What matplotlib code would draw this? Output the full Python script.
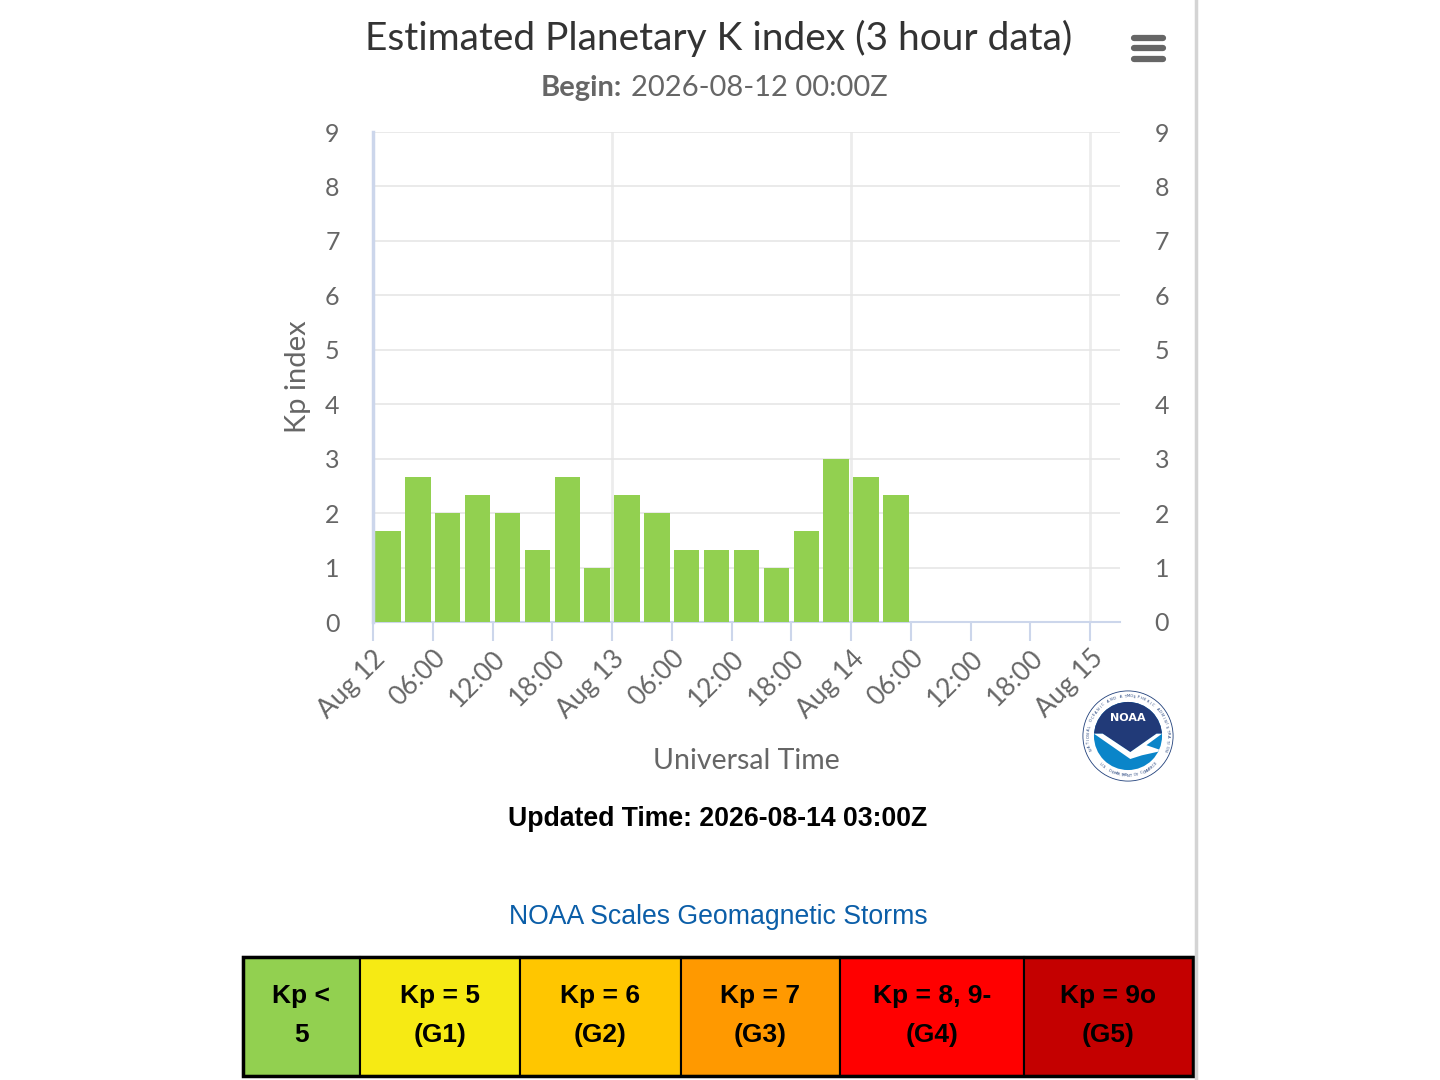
import matplotlib
matplotlib.use("Agg")
import matplotlib.pyplot as plt
import matplotlib.dates as mdates
from matplotlib.ticker import FuncFormatter, MultipleLocator
from matplotlib.patches import Rectangle, Circle, Polygon
from matplotlib.lines import Line2D
import numpy as np
import pandas as pd

# ---------------- data ----------------
title = "Estimated Planetary K index (3 hour data)"
begin_label = "Begin:"
begin_value = "2026-08-12 00:00Z"
updated_text = "Updated Time: 2026-08-14 03:00Z"
scales_text = "NOAA Scales Geomagnetic Storms"

times = ["2026-08-12 00:00", "2026-08-12 03:00", "2026-08-12 06:00", "2026-08-12 09:00",
         "2026-08-12 12:00", "2026-08-12 15:00", "2026-08-12 18:00", "2026-08-12 21:00",
         "2026-08-13 00:00", "2026-08-13 03:00", "2026-08-13 06:00", "2026-08-13 09:00",
         "2026-08-13 12:00", "2026-08-13 15:00", "2026-08-13 18:00", "2026-08-13 21:00",
         "2026-08-14 00:00", "2026-08-14 03:00"]
kp = [1.67, 2.67, 2.00, 2.33, 2.00, 1.33, 2.67, 1.00,
      2.33, 2.00, 1.33, 1.33, 1.33, 1.00, 1.67, 3.00,
      2.67, 2.33]
x_start = "2026-08-12 00:00"
x_end = "2026-08-15 03:00"

scale_labels = ["Kp <\n5", "Kp = 5\n(G1)", "Kp = 6\n(G2)", "Kp = 7\n(G3)",
                "Kp = 8, 9-\n(G4)", "Kp = 9o\n(G5)"]
scale_colors = ["#92d050", "#f6ea14", "#ffc600", "#ff9900", "#ff0000", "#c40000"]
scale_edges_px = [243, 360, 520, 681, 840, 1024, 1193]

# ---------------- figure ----------------
W, H = 1440, 1080
fig = plt.figure(figsize=(W / 100, H / 100), dpi=100)
fig.patch.set_facecolor("white")

def fx(px):
    return px / W

def fy(py):
    return 1 - py / H

FONT = ["Lato", "DejaVu Sans"]
GREY = "#666666"
AXIS_BLUE = "#ccd6eb"

# main axes
ax = fig.add_axes([fx(373), fy(622), fx(1120) - fx(373), fy(132) - fy(622)])
t = pd.to_datetime(times)
centers = mdates.date2num(t + pd.Timedelta(hours=1.5))
ax.bar(centers, kp, width=2.55 / 24, color="#92d050", edgecolor="none", zorder=3)

ax.set_xlim(mdates.date2num(pd.Timestamp(x_start)), mdates.date2num(pd.Timestamp(x_end)))
ax.set_ylim(0, 9)
ax.yaxis.set_major_locator(MultipleLocator(1))
ax.xaxis.set_major_locator(mdates.HourLocator(byhour=[0, 6, 12, 18]))

def xfmt(v, pos):
    d = mdates.num2date(v)
    if d.hour == 0:
        return d.strftime("%b ") + str(d.day)
    return d.strftime("%H:%M")

ax.xaxis.set_major_formatter(FuncFormatter(xfmt))

for s in ["top", "right"]:
    ax.spines[s].set_visible(False)
ax.spines["left"].set_color(AXIS_BLUE)
ax.spines["left"].set_linewidth(2.5)
ax.spines["bottom"].set_color(AXIS_BLUE)
ax.spines["bottom"].set_linewidth(1.5)
ax.spines["left"].set_zorder(4)

ax.grid(axis="y", color="#e6e6e6", lw=1.2, zorder=0)
for day in ["2026-08-13", "2026-08-14", "2026-08-15"]:
    ax.axvline(mdates.date2num(pd.Timestamp(day)), color="#ececec", lw=2.0, zorder=0)

ax.tick_params(axis="y", length=0, pad=24, labelsize=18, labelcolor=GREY)
ax.tick_params(axis="x", length=14, width=1.5, color=AXIS_BLUE, pad=3,
               labelsize=19, labelcolor=GREY)
for lab in ax.get_xticklabels():
    lab.set_rotation(45)
    lab.set_ha("right")
    lab.set_va("top")
    lab.set_rotation_mode("anchor")
    lab.set_family(FONT)
for lab in ax.get_yticklabels():
    lab.set_family(FONT)

ax.set_ylabel("Kp index", fontsize=21, color=GREY, family=FONT, labelpad=10)
ax.set_xlabel("Universal Time", fontsize=20.5, color=GREY, family=FONT, labelpad=18)

ax2 = ax.twinx()
ax2.set_ylim(0, 9)
ax2.yaxis.set_major_locator(MultipleLocator(1))
for s in ax2.spines.values():
    s.set_visible(False)
ax2.tick_params(axis="y", length=0, pad=25, labelsize=18, labelcolor=GREY)
for lab in ax2.get_yticklabels():
    lab.set_family(FONT)

# ---------------- titles ----------------
fig.text(fx(719), fy(38), title, ha="center", va="center", fontsize=28,
         color="#333333", family=FONT)
fig.text(fx(622), fy(88), begin_label, ha="right", va="center", fontsize=21,
         color=GREY, family=FONT, weight="bold")
fig.text(fx(631), fy(88), begin_value, ha="left", va="center", fontsize=21,
         color=GREY, family=FONT)

# hamburger menu icon
for yy in [38, 48, 59]:
    fig.add_artist(Line2D([fx(1134), fx(1163)], [fy(yy), fy(yy)], color="#666666",
                          lw=4.5, solid_capstyle="round"))

# page border
fig.add_artist(Line2D([fx(1196), fx(1196)], [0, 1], color="#d4d4d4", lw=2.5))

# ---------------- NOAA logo ----------------
cx, cy, r = 1128, 736, 46
lax = fig.add_axes([fx(cx - r), fy(cy + r), fx(2 * r), fy(cy - r) - fy(cy + r)])
lax.set_xlim(-1, 1)
lax.set_ylim(-1, 1)
lax.axis("off")
lax.add_patch(Circle((0, 0), 0.98, facecolor="white", edgecolor="#1f3f7a", lw=0.6))
inner = Circle((0, 0), 0.74, facecolor="#0a85c9", edgecolor="none")
lax.add_patch(inner)
navy = Polygon([(-1, 1), (1, 1), (1, 0.05), (0.62, 0.05), (0.05, -0.35),
                (-0.55, 0.05), (-1, 0.05)], closed=True, facecolor="#213a78",
               edgecolor="none")
lax.add_patch(navy)
navy.set_clip_path(inner)
gull = Polygon([(-0.74, 0.05), (-0.55, 0.05), (0.05, -0.35), (0.62, 0.05), (0.74, 0.05),
                (0.4, -0.2), (0.75, -0.32), (0.3, -0.42), (0.05, -0.5)],
               closed=True, facecolor="white", edgecolor="none")
lax.add_patch(gull)
gull.set_clip_path(inner)
lax.text(0, 0.4, "NOAA", ha="center", va="center", color="white", fontsize=8,
         weight="bold", family="DejaVu Sans")
ring_top = "NATIONAL OCEANIC AND ATMOSPHERIC ADMINISTRATION"
angs = np.linspace(200, -20, len(ring_top))
for ch, a in zip(ring_top, angs):
    ar = np.deg2rad(a)
    lax.text(0.86 * np.cos(ar), 0.86 * np.sin(ar), ch, ha="center", va="center",
             rotation=a - 90, fontsize=2.6, color="#1f3f7a", family="DejaVu Sans")
ring_bot = "U.S. DEPARTMENT OF COMMERCE"
angs = np.linspace(225, 315, len(ring_bot))
for ch, a in zip(ring_bot, angs):
    ar = np.deg2rad(a)
    lax.text(0.86 * np.cos(ar), 0.86 * np.sin(ar), ch, ha="center", va="center",
             rotation=a + 90, fontsize=2.6, color="#1f3f7a", family="DejaVu Sans")

# ---------------- footer texts ----------------
fig.text(fx(718), fy(819), updated_text, ha="center", va="center", fontsize=19.2,
         color="black", weight="bold", family=["Liberation Sans", "DejaVu Sans"])
fig.text(fx(718), fy(917), scales_text, ha="center", va="center", fontsize=19.2,
         color="#0b5ea8", family=["Liberation Sans", "DejaVu Sans"])

# ---------------- scales table ----------------
top, bot = 957, 1076
for i, (lab, col) in enumerate(zip(scale_labels, scale_colors)):
    x0, x1 = scale_edges_px[i], scale_edges_px[i + 1]
    fig.add_artist(Rectangle((fx(x0), fy(bot)), fx(x1) - fx(x0), fy(top) - fy(bot),
                             facecolor=col, edgecolor="black", lw=1.5))
    l1, l2 = lab.split("\n")
    fig.text(fx((x0 + x1) / 2), fy(996), l1, ha="center", va="center", fontsize=19,
             weight="bold", color="black",
             family=["Liberation Sans Narrow", "Liberation Sans", "DejaVu Sans"])
    fig.text(fx((x0 + x1) / 2), fy(1035), l2, ha="center", va="center", fontsize=19,
             weight="bold", color="black",
             family=["Liberation Sans Narrow", "Liberation Sans", "DejaVu Sans"])
fig.add_artist(Rectangle((fx(243), fy(bot)), fx(1193) - fx(243), fy(top) - fy(bot),
                         facecolor="none", edgecolor="black", lw=2.5))

fig.savefig("out.png", dpi=100)
